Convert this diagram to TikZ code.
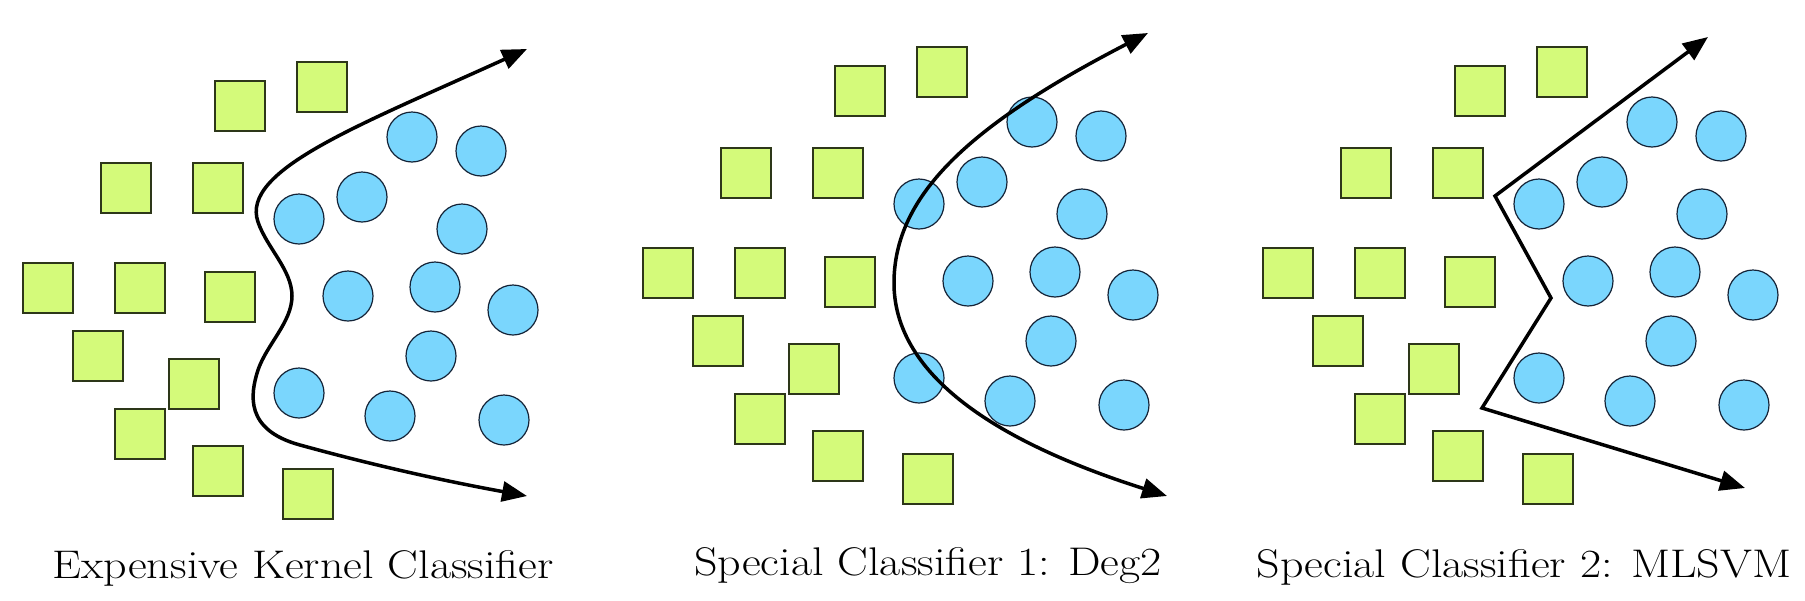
\documentclass[tikz,border=0pt]{standalone}
\usepackage{tikz}
\usetikzlibrary{arrows.meta}
\definecolor{squarefill}{RGB}{212,250,122}
\definecolor{squaredraw}{RGB}{45,55,25}
\definecolor{dotfill}{RGB}{122,214,253}
\definecolor{dotdraw}{RGB}{20,35,55}
\tikzstyle{boundary} = [line width=1.75pt, >={Triangle[length=12.5pt,width=10pt]}, <->]

\begin{document}
\begin{tikzpicture}[
    x=0.5pt, y=-0.5pt,
    square/.style={draw=squaredraw, fill=squarefill, line width=0.6pt, minimum size=25pt, inner sep=0pt},
    dot/.style={circle, draw=dotdraw, fill=dotfill, line width=0.6pt, minimum size=25pt, inner sep=0pt},
    caption/.style={anchor=base, xscale=1.15, transform shape, font=\fontsize{20}{24}\selectfont},
  ]
  \useasboundingbox (0,0) rectangle (1805,600);
  % same data in every panel
  \foreach \p/\dx/\dy in {1/0/0, 2/620/-15, 3/1240/-15} {
    \begin{scope}[shift={(\dx,\dy)}]
      \foreach \x/\y [count=\i] in {240/106, 322/87, 126/188, 218/188, 48/288, 140/288,
                                    230/297, 98/356, 194/384, 140/434, 218/471, 308/494}
        \node[square] (sq\p-\i) at (\x,\y) {};
      \foreach \x/\y [count=\i] in {412/137, 481/151, 362/197, 299/219, 462/229, 348/296,
                                    435/287, 513/310, 431/356, 299/393, 390/416, 504/420}
        \node[dot] (dot\p-\i) at (\x,\y) {};
    \end{scope}
  }
  % decision boundaries
  \draw[boundary] (527,49) .. controls (360,125) and (240,170) .. (258,222)
    .. controls (267,248) and (292,270) .. (292,296)
    .. controls (292,322) and (267,344) .. (258,370)
    .. controls (250,395) and (245,430) .. (300,445)
    .. controls (380,467) and (450,482) .. (527,496);
  \draw[boundary] (1148,33) .. controls (970,125) and (894,195) .. (894,283)
    .. controls (894,365) and (975,435) .. (1167,496);
  \draw[boundary] (1708,37) -- (1495,196) -- (1551,298) -- (1482,408) -- (1745,488);
  % captions
  \node[caption] (cap1) at (303,578) {Expensive Kernel Classifier};
  \node[caption] (cap2) at (928,575) {Special Classifier 1: Deg2};
  \node[caption] (cap3) at (1524,577) {Special Classifier 2: MLSVM};
\end{tikzpicture}
\end{document}
